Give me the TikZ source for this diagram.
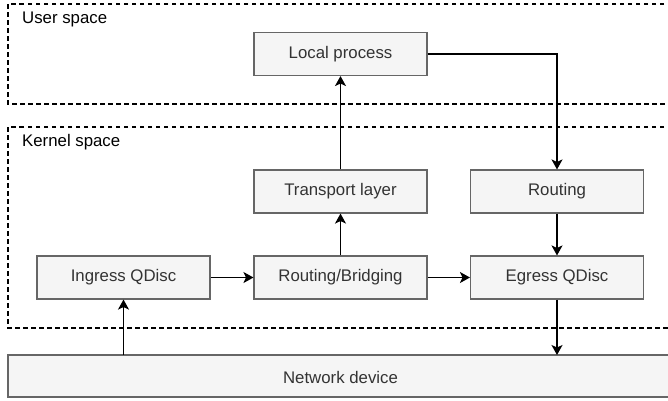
\documentclass[tikz,border=0pt]{standalone}
\usepackage{fontspec}
\setmainfont{Liberation Sans}
\usetikzlibrary{arrows.meta}
\definecolor{boxfill}{HTML}{F5F5F5}
\definecolor{boxline}{HTML}{666666}
\definecolor{boxtext}{HTML}{333333}
\begin{document}
\begin{tikzpicture}[x=1pt,y=-1pt,
  every node/.style={font=\fontsize{16.8}{20}\selectfont},
  stage/.style={draw=boxline,fill=boxfill,line width=1.1pt,text=boxtext,
    minimum width=173pt,minimum height=43pt,inner sep=0pt},
  region/.style={draw=black,line width=1.1pt,dash pattern=on 4.5pt off 3.5pt},
  flow/.style={line width=1.4pt,-{Stealth[length=10pt,width=11pt,inset=2.5pt]}}]
\useasboundingbox (0,0) rectangle (668,400);
\fill[white] (0,0) rectangle (668,400);

% user space and kernel space regions (they run past the right margin)
\draw[region] (672,4) -- (8,4) -- (8,104) -- (672,104);
\draw[region] (672,127) -- (8,127) -- (8,328) -- (672,328);
\node[anchor=west,inner sep=0pt] (user) at (22,19.5) {User space};
\node[anchor=west,inner sep=0pt] (kernel) at (22,142.5) {Kernel space};

% processing stages
\node[stage] (local) at (340.5,54) {Local process};
\node[stage] (transport) at (340.5,191.5) {Transport layer};
\node[stage] (routing) at (557,191.5) {Routing};
\node[stage] (ingress) at (123.5,277.5) {Ingress QDisc};
\node[stage] (bridging) at (340.5,277.5) {Routing/Bridging};
\node[stage] (egress) at (557,277.5) {Egress QDisc};
\draw[draw=boxline,fill=boxfill,line width=1.1pt] (8,355) rectangle (672,397);
\node[text=boxtext] (device) at (340.5,377) {Network device};

% packet flow
\coordinate (ingin) at (ingress.south |- 355,355);
\coordinate (egout) at (egress.south |- 355,355);
\draw[flow] (ingin) -- (ingress.south);
\draw[flow] (ingress.east) -- (bridging.west);
\draw[flow] (bridging.east) -- (egress.west);
\draw[flow] (bridging.north) -- (transport.south);
\draw[flow] (transport.north) -- (local.south);
\draw[flow] (local.east) -| (routing.north);
\draw[flow] (routing.south) -- (egress.north);
\draw[flow] (egress.south) -- (egout);
\end{tikzpicture}
\end{document}
